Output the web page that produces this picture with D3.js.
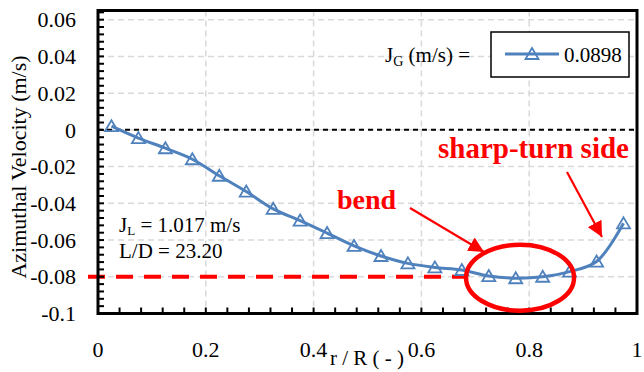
<!DOCTYPE html>
<html>
<head>
<meta charset="utf-8">
<script src="https://cdn.jsdelivr.net/npm/d3@7"></script>
<style>
  body { margin: 0; background: #fff; }
</style>
</head>
<body>
<svg id="chart" width="644" height="372"></svg>
<script>
// radial position and azimuthal velocity
const rR = [0.025, 0.075, 0.125, 0.175, 0.225, 0.275, 0.325, 0.375, 0.425, 0.475,
            0.525, 0.575, 0.625, 0.675, 0.725, 0.775, 0.825, 0.875, 0.925, 0.975];
const velocity = [0.002, -0.0045, -0.010, -0.016, -0.025, -0.0336, -0.043, -0.0494, -0.0562, -0.0632,
                  -0.0687, -0.0727, -0.0749, -0.0763, -0.0796, -0.0808, -0.0800, -0.0772, -0.0717, -0.0509];
const xTicks = [0, 0.2, 0.4, 0.6, 0.8, 1];
const yTicks = [0.06, 0.04, 0.02, 0, -0.02, -0.04, -0.06, -0.08, -0.1];
const xTickLabels = ["0", "0.2", "0.4", "0.6", "0.8", "1"];
const yTickLabels = ["0.06", "0.04", "0.02", "0", "-0.02", "-0.04", "-0.06", "-0.08", "-0.1"];
const seriesName = "0.0898";
const refLevel = -0.08;

const blue = "#4f81bd";
const red = "#ff0000";

const svg = d3.select("#chart")
  .attr("font-family", "'Liberation Serif', 'DejaVu Serif', serif");
const plotLeft = 98, plotRight = 637, plotTop = 10.5, plotBottom = 313.5;

const x = d3.scaleLinear().domain([0, 1]).range([plotLeft, plotRight]);
const y = d3.scaleLinear().domain([-0.1, 0.065]).range([plotBottom, plotTop]);

// gridlines
svg.append("g")
  .selectAll("line")
  .data(yTicks.filter(d => d > -0.1))
  .join("line")
  .attr("x1", plotLeft).attr("x2", plotRight)
  .attr("y1", d => y(d)).attr("y2", d => y(d))
  .attr("stroke", "#d9d9d9").attr("stroke-width", 1.5).attr("stroke-dasharray", "6,4");

svg.append("g")
  .selectAll("line")
  .data(xTicks.filter(d => d > 0 && d < 1))
  .join("line")
  .attr("x1", d => x(d)).attr("x2", d => x(d))
  .attr("y1", plotTop).attr("y2", plotBottom)
  .attr("stroke", "#d9d9d9").attr("stroke-width", 1.5).attr("stroke-dasharray", "6,4");

// zero line
svg.append("line")
  .attr("x1", plotLeft).attr("x2", plotRight)
  .attr("y1", y(0)).attr("y2", y(0))
  .attr("stroke", "#000").attr("stroke-width", 2).attr("stroke-dasharray", "5,4");

// red reference dashed line
svg.append("line")
  .attr("x1", plotLeft - 10).attr("x2", x(0.68))
  .attr("y1", y(refLevel)).attr("y2", y(refLevel))
  .attr("stroke", red).attr("stroke-width", 4).attr("stroke-dasharray", "17,11");

// minor ticks (inside)
const xMinor = d3.range(0, 1.0001, 0.04);
const yMinor = d3.range(-0.1, 0.0651, 0.004);
svg.append("g")
  .selectAll("line")
  .data(xMinor)
  .join("line")
  .attr("x1", d => x(d)).attr("x2", d => x(d))
  .attr("y1", plotBottom).attr("y2", plotBottom - 6)
  .attr("stroke", "#000").attr("stroke-width", 2);
svg.append("g")
  .selectAll("line")
  .data(yMinor)
  .join("line")
  .attr("x1", plotLeft).attr("x2", plotLeft + 6)
  .attr("y1", d => y(d)).attr("y2", d => y(d))
  .attr("stroke", "#000").attr("stroke-width", 2);

// frame
svg.append("rect")
  .attr("x", plotLeft).attr("y", plotTop)
  .attr("width", plotRight - plotLeft).attr("height", plotBottom - plotTop)
  .attr("fill", "none").attr("stroke", "#000").attr("stroke-width", 3);

// tick labels
svg.append("g")
  .selectAll("text")
  .data(yTicks)
  .join("text")
  .attr("x", 76).attr("y", d => y(d))
  .attr("dy", "0.35em")
  .attr("text-anchor", "end")
  .attr("font-size", 22)
  .text((d, i) => yTickLabels[i]);

svg.append("g")
  .selectAll("text")
  .data(xTicks)
  .join("text")
  .attr("x", d => x(d)).attr("y", 357)
  .attr("text-anchor", "middle")
  .attr("font-size", 22)
  .text((d, i) => xTickLabels[i]);

// axis titles
svg.append("text")
  .attr("transform", "translate(26,167) rotate(-90)")
  .attr("text-anchor", "middle")
  .attr("font-size", 22)
  .text("Azimuthal Velocity (m/s)");

svg.append("text")
  .attr("x", 367).attr("y", 365)
  .attr("text-anchor", "middle")
  .attr("font-size", 21)
  .text("r / R ( - )");

// series
const line = d3.line()
  .x((d, i) => x(rR[i]))
  .y(d => y(d))
  .curve(d3.curveCatmullRom.alpha(0.5));

svg.append("path")
  .datum(velocity)
  .attr("d", line)
  .attr("fill", "none")
  .attr("stroke", blue)
  .attr("stroke-width", 3);

const tri = "M0,-6L6.5,5L-6.5,5Z";
svg.append("g")
  .selectAll("path")
  .data(velocity)
  .join("path")
  .attr("transform", (d, i) => `translate(${x(rR[i])},${y(d)})`)
  .attr("d", tri)
  .attr("fill", "none")
  .attr("stroke", blue)
  .attr("stroke-width", 1.8);

// legend
const lg = svg.append("g");
lg.append("rect")
  .attr("x", 491).attr("y", 32).attr("width", 138).attr("height", 45)
  .attr("fill", "#fff").attr("stroke", "#000").attr("stroke-width", 1.5);
lg.append("line")
  .attr("x1", 505).attr("x2", 559).attr("y1", 54).attr("y2", 54)
  .attr("stroke", blue).attr("stroke-width", 3);
lg.append("path")
  .attr("transform", "translate(532,54)")
  .attr("d", tri)
  .attr("fill", "none").attr("stroke", blue).attr("stroke-width", 1.8);
lg.append("text")
  .attr("x", 564).attr("y", 62)
  .attr("font-size", 21)
  .text(seriesName);

const jg = svg.append("text").attr("x", 385).attr("y", 62).attr("font-size", 21);
jg.append("tspan").text("J");
jg.append("tspan").attr("font-size", 14).attr("dy", 4).text("G");
jg.append("tspan").attr("dy", -4).text(" (m/s) =");

// condition text
const jl = svg.append("text").attr("x", 119).attr("y", 232).attr("font-size", 21);
jl.append("tspan").text("J");
jl.append("tspan").attr("font-size", 13).attr("dy", 3).text("L");
jl.append("tspan").attr("dy", -3).text(" = 1.017 m/s");
svg.append("text").attr("x", 119).attr("y", 258).attr("font-size", 21).text("L/D = 23.20");

// annotations
const defs = svg.append("defs");
defs.append("marker")
  .attr("id", "arrow")
  .attr("viewBox", "0 0 10 10")
  .attr("refX", 10).attr("refY", 5)
  .attr("markerWidth", 7).attr("markerHeight", 7)
  .attr("markerUnits", "strokeWidth")
  .attr("orient", "auto")
  .append("path")
  .attr("d", "M0,0L10,5L0,10Z")
  .attr("fill", red);

svg.append("text")
  .attr("x", 337).attr("y", 209)
  .attr("font-size", 28).attr("font-weight", "bold").attr("fill", red)
  .text("bend");
svg.append("text")
  .attr("x", 438).attr("y", 158)
  .attr("font-size", 29).attr("font-weight", "bold").attr("fill", red)
  .text("sharp-turn side");

svg.append("line")
  .attr("x1", 410).attr("y1", 208).attr("x2", 484).attr("y2", 252)
  .attr("stroke", red).attr("stroke-width", 2.2)
  .attr("marker-end", "url(#arrow)");
svg.append("line")
  .attr("x1", 567).attr("y1", 172).attr("x2", 602).attr("y2", 237)
  .attr("stroke", red).attr("stroke-width", 2.2)
  .attr("marker-end", "url(#arrow)");

svg.append("ellipse")
  .attr("cx", x(0.783)).attr("cy", y(-0.0805))
  .attr("rx", 54).attr("ry", 33)
  .attr("fill", "none").attr("stroke", red).attr("stroke-width", 4.5);
</script>
</body>
</html>
